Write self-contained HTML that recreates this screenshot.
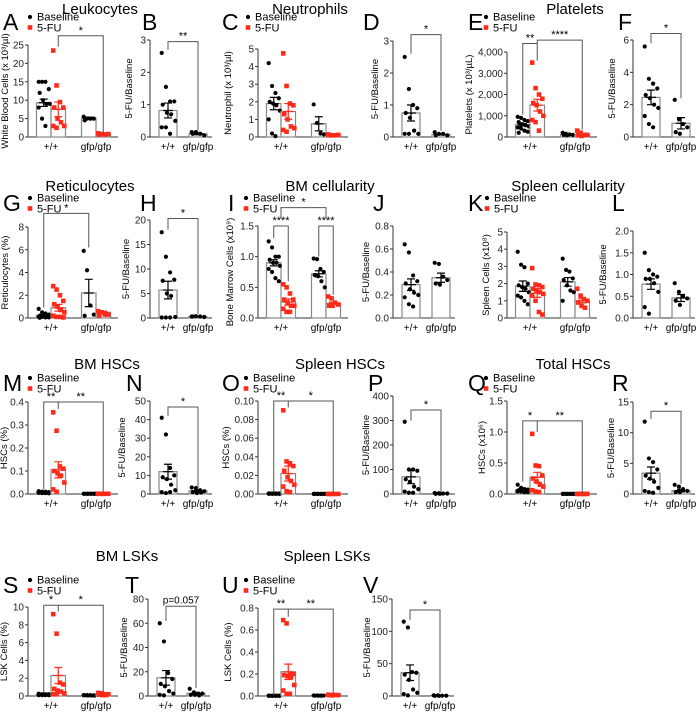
<!DOCTYPE html>
<html><head><meta charset="utf-8"><style>
body{margin:0;background:#fff}
svg{display:block;font-family:"Liberation Sans",sans-serif}
</style></head><body>
<svg id="fig" width="697" height="714" viewBox="0 0 697 714"></svg>
<script>
// ---------- DATA ----------
const A_pts=[[15,15,15,13,12,10,9,9,8,5,3],[23.5,14,9.5,8,8,5,4,3,3,2.5],[5.5,5,5,5,4.5],[1,0.8,0.7,0.8,0.6]];
const A_means=[9.3,7.5,5.1,0.8]; const A_sems=[1,2,0.3,0.1];
const A_ticks=[0,5,10,15,20,25];
const B_pts=[[2.6,1.55,1.1,1.1,1.0,0.75,0.7,0.5,0.3,0.3,0.1],[0.15,0.15,0.1,0.05,0.1]];
const B_means=[0.82,0.1]; const B_sems=[0.23,0.03]; const B_ticks=[0,1,2,3];
const C_pts=[[4.2,2.9,2.5,2.2,2.0,1.9,1.8,1.5,1.0,0.2,0.05],[4.75,2.9,1.9,1.8,1.3,1.0,0.6,0.5,0.4,0.3],[1.85,0.8,0.2,0.15],[0.15,0.1,0.1,0.12,0.1]];
const C_means=[1.9,1.45,0.75,0.12]; const C_sems=[0.35,0.45,0.4,0.02]; const C_ticks=[0,1,2,3,4,5];
const D_pts=[[2.5,1.5,1.0,0.9,0.75,0.6,0.2,0.1,0.1,0.1],[0.15,0.1,0.1,0.05,0.05]];
const D_means=[0.75,0.08]; const D_sems=[0.25,0.02]; const D_ticks=[0,1,2,3];
const E_pts=[[950,900,800,750,700,600,550,500,450,400,300,250,200],[3500,2300,2000,1800,1600,1500,1200,1000,800,700,300],[200,150,120,100,100,80],[300,200,100,100,80,50]];
const E_means=[580,1500,110,120]; const E_sems=[60,280,20,40]; const E_ticks=[0,1000,2000,3000,4000];
const E_tickLabels=["0","1,000","2,000","3,000","4,000"];
const F_pts=[[5.6,3.6,3.3,3.0,2.6,2.4,2.0,1.8,1.3,0.8,0.6],[2.3,1.1,0.8,0.6,0.3,0.2]];
const F_means=[2.45,0.85]; const F_sems=[0.45,0.35]; const F_ticks=[0,2,4,6];
const G_pts=[[0.8,0.5,0.4,0.3,0.2,0.2,0.1,0.1,0.1,0.1,0.05,0.05,0.02],[2.8,2.5,2.0,1.5,1.2,1.0,0.7,0.5,0.2,0.1,0.1,0.05],[5.9,4.2,1.1,0.3,0.2],[0.6,0.5,0.3,0.3,0.2]];
const G_means=[0.22,0.9,2.2,0.5]; const G_sems=[0.06,0.3,1.2,0.1]; const G_ticks=[0,2,4,6,8];
const H_pts=[[17.5,12.5,9.3,7.8,7.6,5.0,4.5,0.2,0.1,0.1,0.1],[0.3,0.35,0.3,0.2,0.3]];
const H_means=[5.7,0.3]; const H_sems=[1.8,0.03]; const H_ticks=[0,5,10,15,20];
const I_pts=[[1.25,1.15,1.0,1.0,0.95,0.9,0.9,0.85,0.8,0.75,0.65,0.6],[0.55,0.5,0.4,0.3,0.3,0.25,0.2,0.2,0.15,0.1,0.1],[0.97,0.96,0.8,0.75,0.7,0.68,0.6,0.5],[0.35,0.32,0.25,0.22,0.2,0.2]];
const I_means=[0.9,0.26,0.72,0.24]; const I_sems=[0.05,0.05,0.05,0.02]; const I_ticks=[0,0.5,1.0,1.5];
const J_pts=[[0.64,0.57,0.37,0.32,0.3,0.25,0.22,0.2,0.18,0.12,0.1],[0.48,0.47,0.36,0.33,0.3,0.29]];
const J_means=[0.29,0.35]; const J_sems=[0.05,0.04]; const J_ticks=[0,0.2,0.4,0.6,0.8];
const K_pts=[[3.85,3.1,2.95,2.0,1.9,1.8,1.7,1.5,1.3,1.2,1.0,0.8],[2.9,1.95,1.9,1.8,1.7,1.6,1.5,1.4,1.3,1.0,0.35,0.2],[3.45,2.8,2.7,2.3,2.2,1.9,1.6,1.5,1.0],[1.7,1.3,1.1,1.0,0.9,0.7,0.6]];
const K_means=[1.85,1.45,2.1,1.0]; const K_sems=[0.3,0.25,0.25,0.12]; const K_ticks=[0,1,2,3,4,5];
const L_pts=[[1.5,1.1,1.0,0.95,0.9,0.9,0.8,0.6,0.25,0.1],[0.8,0.6,0.5,0.45,0.4,0.3]];
const L_means=[0.78,0.46]; const L_sems=[0.12,0.08]; const L_ticks=[0,0.5,1.0,1.5,2.0];
const M_pts=[[0.012,0.01,0.01,0.008,0.008,0.006,0.006,0.005,0.005,0.004,0.004,0.003],[0.355,0.275,0.12,0.11,0.1,0.09,0.08,0.05,0.02,0.01],[0.001,0.001,0.001,0.001,0.001,0.001,0.001,0.001],[0.001,0.001,0.001,0.001,0.001,0.001]];
const M_means=[0.007,0.105,0.001,0.001]; const M_sems=[0.001,0.035,0,0]; const M_ticks=[0,0.1,0.2,0.3,0.4];
const N_pts=[[41,32,14,10,9,8,5,2,1,0.5,1],[3.5,3.2,2,1.5,1,0.5,0.8]];
const N_means=[12,1.7]; const N_sems=[4,0.5]; const N_ticks=[0,10,20,30,40,50];
const O_pts=[[0.0006,0.0005,0.0005,0.0005,0.0004,0.0004,0.0004,0.0003,0.0003,0.0003,0.0002,0.0002],[0.09,0.035,0.033,0.03,0.025,0.018,0.014,0.01,0.008,0.003,0.002],[0.0001,0.0001,0.0001,0.0001,0.0001,0.0001,0.0001,0.0001],[0.0001,0.0001,0.0001,0.0001,0.0001,0.0001]];
const O_means=[0.0004,0.022,0.0001,0.0001]; const O_sems=[0.0001,0.008,0,0]; const O_ticks=[0,0.02,0.04,0.06,0.08,0.1];
const P_pts=[[295,100,100,95,60,50,30,20,10,5,5],[4,3,2,2,1,1]];
const P_means=[70,2.2]; const P_sems=[28,0.5]; const P_ticks=[0,100,200,300,400];
const Q_pts=[[0.15,0.1,0.08,0.07,0.06,0.05,0.05,0.05,0.04,0.04,0.03,0.03],[0.97,0.46,0.45,0.3,0.25,0.2,0.15,0.12,0.06,0.04,0.03],[0.002,0.002,0.002,0.002,0.002,0.002,0.002,0.002],[0.002,0.002,0.002,0.002,0.002,0.002,0.002]];
const Q_means=[0.07,0.27,0.002,0.002]; const Q_sems=[0.01,0.08,0,0]; const Q_ticks=[0,0.5,1.0,1.5];
const R_pts=[[11.8,5.8,5.2,4,3,2.5,2,1,0.5,0.3,0.2],[1.5,1.2,0.8,0.5,0.3,0.3]];
const R_means=[3.4,0.55]; const R_sems=[1,0.2]; const R_ticks=[0,5,10,15];
const S_pts=[[0.25,0.2,0.2,0.2,0.18,0.15,0.15,0.12,0.1,0.1,0.1,0.1],[9.2,7.0,1.5,1.3,0.8,0.6,0.5,0.3,0.2,0.2],[0.1,0.1,0.1,0.08,0.08,0.05,0.05,0.05],[0.35,0.3,0.2,0.2,0.15,0.1,0.1]];
const S_means=[0.17,2.3,0.07,0.2]; const S_sems=[0.02,0.9,0.01,0.04]; const S_ticks=[0,2,4,6,8,10];
const T_pts=[[60,45,19,14,10,8,4,2,1,0.5],[6,3,2,2,1,1,0.5]];
const T_means=[15,2.2]; const T_sems=[6,0.7]; const T_ticks=[0,20,40,60,80];
const U_pts=[[0.002,0.002,0.002,0.002,0.002,0.002,0.002,0.002,0.002],[0.69,0.66,0.2,0.2,0.19,0.18,0.17,0.1,0.05,0.02,0.02],[0.005,0.005,0.004,0.004,0.003,0.003,0.003],[0.012,0.01,0.01,0.008,0.008,0.006]];
const U_means=[0.002,0.22,0.004,0.009]; const U_sems=[0,0.07,0,0.001]; const U_ticks=[0,0.2,0.4,0.6,0.8];
const V_pts=[[115,106,37,36,33,25,10,5,3,1],[1,1,0.5,0.5,0.3,0.3]];
const V_means=[36,0.8]; const V_sems=[12,0.2]; const V_ticks=[0,50,100,150];

// ---------- LAYOUT ----------
const RED="#ff2a1a";
const P=[
 {id:"A",type:4,ax:28,y0:137,yt:45,max:25,pts:A_pts,m:A_means,s:A_sems,t:A_ticks,dec:0,yl:"White Blood Cells (x 10³/µl)",ylx:5,lx:3,ly:22,lg:30,br:[[1,3,27.5,24.5,0.6,"*"]]},
 {id:"B",type:2,ax:150,y0:137,yt:40,max:3,pts:B_pts,m:B_means,s:B_sems,t:B_ticks,dec:0,yl:"5-FU/Baseline",ylx:129,lx:142,ly:22,br:[[0,1,2.95,2.7,0.2,"**"]]},
 {id:"C",type:4,ax:258,y0:137,yt:49,max:5,pts:C_pts,m:C_means,s:C_sems,t:C_ticks,dec:0,yl:"Neutrophil (x 10³/µl)",ylx:228,lx:222,ly:22,lg:248,br:[]},
 {id:"D",type:2,ax:393,y0:137,yt:41,max:3,pts:D_pts,m:D_means,s:D_sems,t:D_ticks,dec:0,yl:"5-FU/Baseline",ylx:375,lx:363,ly:22,br:[[0,1,3.2,2.6,0.2,"*"]]},
 {id:"E",type:4,ax:507,y0:137,yt:52,max:4000,pts:E_pts,m:E_means,s:E_sems,t:E_ticks,tl:E_tickLabels,yl:"Platelets (x 10³/µL)",ylx:469,lx:468,ly:22,lg:486,br:[[0,1,4400,1050,3600,"**"],[1,3,4560,4400,350,"****"]]},
 {id:"F",type:2,ax:633,y0:137,yt:40,max:6,pts:F_pts,m:F_means,s:F_sems,t:F_ticks,dec:0,yl:"5-FU/Baseline",ylx:612,lx:618,ly:22,br:[[0,1,6.4,5.8,2.4,"*"]]},
 {id:"G",type:4,ax:28,y0:318,yt:227,max:8,pts:G_pts,m:G_means,s:G_sems,t:G_ticks,dec:0,yl:"Reticulocytes (%)",ylx:5,lx:3,ly:203,lg:30,br:[[0,2,9.2,0.9,6.2,"*"]]},
 {id:"H",type:2,ax:150,y0:318,yt:220,max:20,pts:H_pts,m:H_means,s:H_sems,t:H_ticks,dec:0,yl:"5-FU/Baseline",ylx:126,lx:140,ly:203,br:[[0,1,20.3,18,0.8,"*"]]},
 {id:"I",type:4,ax:258,y0:318,yt:226,max:1.5,pts:I_pts,m:I_means,s:I_sems,t:I_ticks,dec:1,yl:"Bone Marrow Cells (x10⁹)",ylx:230,lx:228,ly:203,lg:246,br:[[0,1,1.5,1.3,0.6,"****"],[2,3,1.5,1.0,0.38,"****"],[0.5,2.5,1.8,1.62,1.62,"*"]]},
 {id:"J",type:2,ax:393,y0:318,yt:226,max:0.8,pts:J_pts,m:J_means,s:J_sems,t:J_ticks,dec:1,yl:"5-FU/Baseline",ylx:366,lx:373,ly:203,br:[]},
 {id:"K",type:4,ax:507,y0:318,yt:232,max:5,pts:K_pts,m:K_means,s:K_sems,t:K_ticks,dec:0,yl:"Spleen Cells (x10⁸)",ylx:486,lx:468,ly:203,lg:487,br:[]},
 {id:"L",type:2,ax:633,y0:318,yt:231,max:2,pts:L_pts,m:L_means,s:L_sems,t:L_ticks,dec:1,yl:"5-FU/Baseline",ylx:603,lx:612,ly:203,br:[]},
 {id:"M",type:4,ax:28,y0:494,yt:402,max:0.4,pts:M_pts,m:M_means,s:M_sems,t:M_ticks,dec:1,yl:"HSCs (%)",ylx:4,lx:3,ly:383,lg:30,br:[[0,1,0.4,0.02,0.37,"**"],[1,3,0.4,0.4,0.01,"**"]]},
 {id:"N",type:2,ax:150,y0:494,yt:401,max:50,pts:N_pts,m:N_means,s:N_sems,t:N_ticks,dec:0,yl:"5-FU/Baseline",ylx:122,lx:126,ly:383,br:[[0,1,46.8,42,3.5,"*"]]},
 {id:"O",type:4,ax:258,y0:494,yt:401,max:0.1,pts:O_pts,m:O_means,s:O_sems,t:O_ticks,dec:2,yl:"HSCs (%)",ylx:226,lx:222,ly:383,lg:246,br:[[0,1,0.1,0.002,0.093,"**"],[1,3,0.1,0.1,0.002,"*"]]},
 {id:"P",type:2,ax:393,y0:494,yt:396,max:400,pts:P_pts,m:P_means,s:P_sems,t:P_ticks,dec:0,yl:"5-FU/Baseline",ylx:366,lx:368,ly:383,br:[[0,1,343,300,10,"*"]]},
 {id:"Q",type:4,ax:507,y0:494,yt:401,max:1.5,pts:Q_pts,m:Q_means,s:Q_sems,t:Q_ticks,dec:1,yl:"HSCs (x10⁶)",ylx:482,lx:468,ly:383,lg:486,br:[[0,1,1.18,0.2,1.0,"*"],[1,3,1.18,1.18,0.01,"**"]]},
 {id:"R",type:2,ax:633,y0:494,yt:402,max:15,pts:R_pts,m:R_means,s:R_sems,t:R_ticks,dec:0,yl:"5-FU/Baseline",ylx:611,lx:612,ly:383,br:[[0,1,13.5,12.2,1.6,"*"]]},
 {id:"S",type:4,ax:28,y0:696,yt:607,max:10,pts:S_pts,m:S_means,s:S_sems,t:S_ticks,dec:0,yl:"LSK Cells (%)",ylx:4,lx:3,ly:585,lg:30,br:[[0,1,10.2,0.4,9.5,"*"],[1,3,10.2,10.2,0.4,"*"]]},
 {id:"T",type:2,ax:148,y0:696,yt:599,max:80,pts:T_pts,m:T_means,s:T_sems,t:T_ticks,dec:0,yl:"5-FU/Baseline",ylx:124,lx:125,ly:585,br:[[0,1,74,62,6.5,"p=0.057"]]},
 {id:"U",type:4,ax:258,y0:696,yt:608,max:0.8,pts:U_pts,m:U_means,s:U_sems,t:U_ticks,dec:1,yl:"LSK Cells (%)",ylx:228,lx:222,ly:585,lg:246,br:[[0,1,0.79,0.01,0.72,"**"],[1,3,0.79,0.79,0.02,"**"]]},
 {id:"V",type:2,ax:392,y0:696,yt:599,max:150,pts:V_pts,m:V_means,s:V_sems,t:V_ticks,dec:0,yl:"5-FU/Baseline",ylx:367,lx:363,ly:585,br:[[0,1,133,118,5,"*"]]}
];
const TITLES=[["Leukocytes",100,14],["Neutrophils",310,14],["Platelets",575,14],["Reticulocytes",90,191],["BM cellularity",330,191],["Spleen cellularity",568,191],["BM HSCs",107,369],["Spleen HSCs",340,369],["Total HSCs",573,369],["BM LSKs",127,561],["Spleen LSKs",327,561]];

const NS="http://www.w3.org/2000/svg";
const svg=document.getElementById('fig');
function mk(tag,attrs,parent){const e=document.createElementNS(NS,tag);for(const k in attrs)e.setAttribute(k,attrs[k]);(parent||svg).appendChild(e);return e;}
function txt(s,attrs,parent){const e=mk('text',attrs,parent);e.textContent=s;return e;}

TITLES.forEach(t=>{const e=txt(t[0],{x:t[1],y:t[2],'font-size':15,'text-anchor':'middle'});

});

P.forEach(p=>{
 const g=mk('g',{});
 
 
 const yS=v=>p.y0-(v/p.max)*(p.y0-p.yt);
 const offs=p.type===4?[8.5,23,53.5,68]:[9,39];
 const bw=p.type===4?14.5:18;
 const bx=i=>p.ax+offs[i];
 const cx=i=>{const a=Math.floor(i),f=i-a;const c0=bx(a)+bw/2;if(f===0)return c0;return c0+f*(bx(a+1)+bw/2-c0);};
 const xEnd=p.ax+(p.type===4?90:62);
 const L=txt(p.id,{x:p.lx,y:p.ly+8,'font-size':23},g);
 
 
 const ya=mk('line',{x1:p.ax,x2:p.ax,y1:p.yt,y2:p.y0,stroke:'#333','stroke-width':1},g);
 
 
 const xa=mk('line',{x1:p.ax,x2:xEnd,y1:p.y0,y2:p.y0,stroke:'#333','stroke-width':1},g);
 
 
 p.t.forEach((v,i)=>{const y=yS(v);
  mk('line',{x1:p.ax-3,x2:p.ax,y1:y,y2:y,stroke:'#333'},g);
  const lab=p.tl?p.tl[i]:v.toFixed(p.dec);
  const tl=txt(lab,{x:p.ax-4,y:y+3.5,'font-size':10,'text-anchor':'end',fill:'#222'},g);
  
  });
 const yt=txt(p.yl,{x:0,y:0,'font-size':9.5,'text-anchor':'middle',transform:`translate(${p.ylx+3},${(p.yt+p.y0)/2}) rotate(-90)`},g);
 
 
 const c1=p.type===4?(cx(0)+cx(1))/2:cx(0), c2=p.type===4?(cx(2)+cx(3))/2:cx(1);
 [["+/+",c1],["gfp/gfp",c2]].forEach(a=>{const e=txt(a[0],{x:a[1],y:p.y0+13,'font-size':10,'text-anchor':'middle'},g);
  
  });
 p.m.forEach((mv,i)=>{
  const red=p.type===4&&i%2===1;
  const col=red?RED:'#000';
  const top=yS(mv);
  const r=mk('rect',{x:bx(i),y:top,width:bw,height:p.y0-top,fill:'#fff',stroke:'#888','stroke-width':1.2},g);
  
  
  const pts=p.pts[i];
  pts.forEach((v,k)=>{
   const col4=(k%4);const px=bx(i)+bw/2+(col4-1.5)*(bw/4.3)+((k>>2)%2?1:0);
   const py=yS(v);let d;
   if(red){d=mk('rect',{x:px-2.3,y:py-2.3,width:4.6,height:4.6,fill:RED},g);}
   else{d=mk('circle',{cx:px,cy:py,r:2.1,fill:'#000'},g);}
   
   
  });
  const e1=yS(mv+p.s[i]),e2=yS(Math.max(0,mv-p.s[i]));const c=bx(i)+bw/2;
  const eb=mk('path',{d:`M${c},${e1}V${e2}M${c-4},${e1}H${c+4}M${c-4},${e2}H${c+4}M${c-5},${top}H${c+5}`,stroke:col,'stroke-width':1.2,fill:'none'},g);
  
  
 });
 p.br.forEach(b=>{
  const x1=cx(b[0]),x2=cx(b[1]),yt2=yS(b[2]);
  const br=mk('path',{d:`M${x1},${yS(b[3])}V${yt2}H${x2}V${yS(b[4])}`,stroke:'#555','stroke-width':1,fill:'none'},g);
  
  
  const st=txt(b[5],{x:(x1+x2)/2,y:yt2-(b[5][0]==='p'?3:2),'font-size':b[5][0]==='p'?10:11,'text-anchor':'middle'},g);
  
  
 });
 if(p.lg!==undefined){
  const lg=mk('g',{},g);
  
  
  mk('circle',{cx:p.lg,cy:p.ly-5,r:2.1,fill:'#000'},lg);
  txt('Baseline',{x:p.lg+7,y:p.ly-1.5,'font-size':11},lg);
  mk('rect',{x:p.lg-2.3,y:p.ly+3.2,width:4.6,height:4.6,fill:RED},lg);
  txt('5-FU',{x:p.lg+7,y:p.ly+9.5,'font-size':11},lg);
 }
});
</script>
</body></html>
